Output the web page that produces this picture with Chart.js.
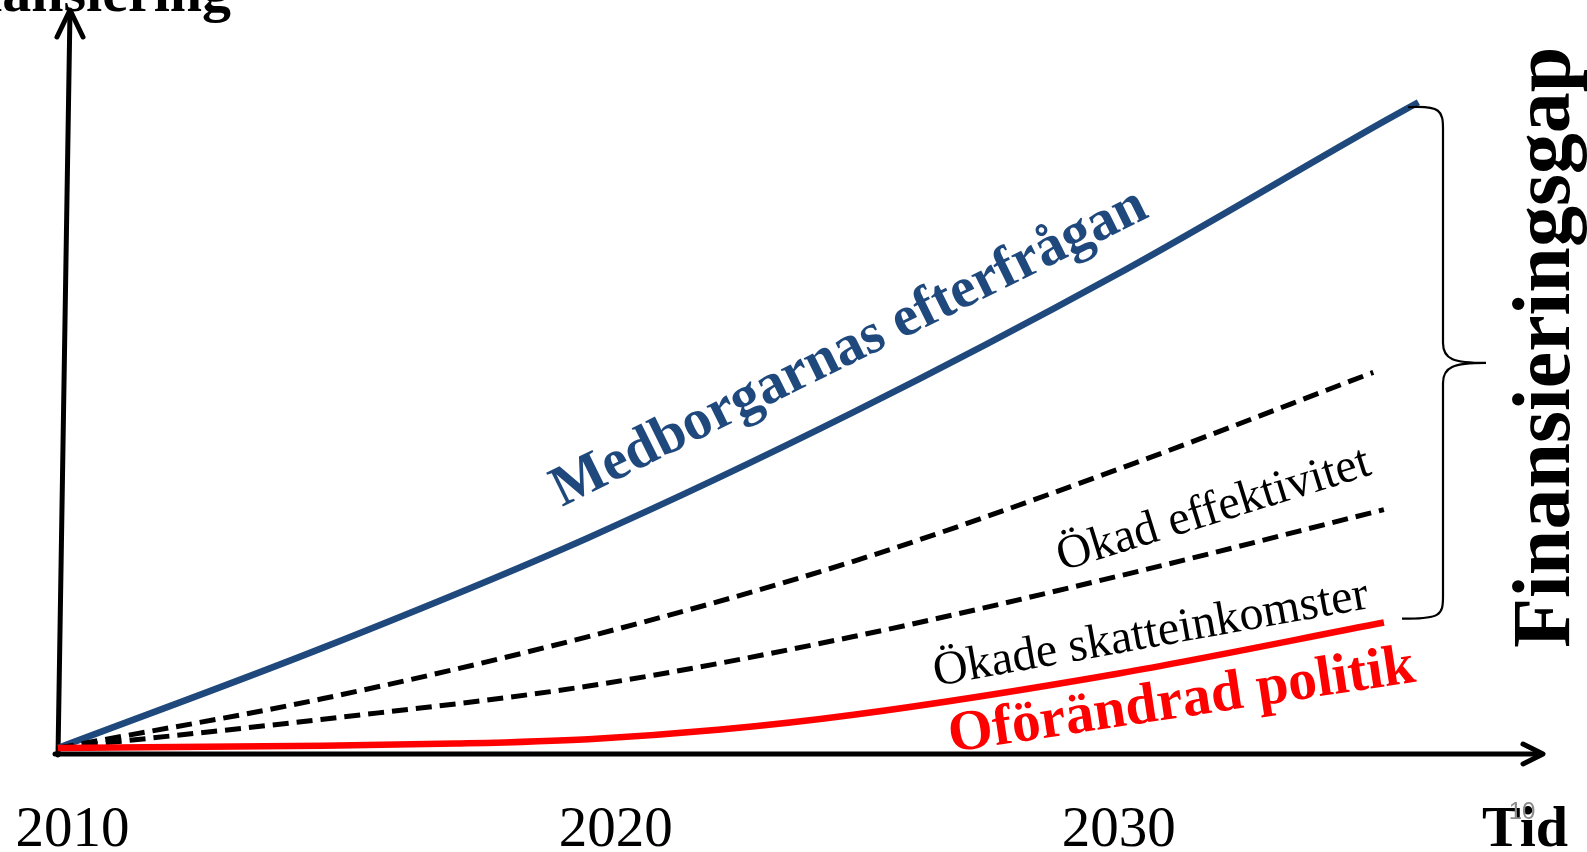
<!DOCTYPE html>
<html>
<head>
<meta charset="utf-8">
<style>
html,body{margin:0;padding:0;background:#fff;overflow:hidden}
#wrap{position:relative;width:1587px;height:852px}
</style>
<script src="https://cdn.jsdelivr.net/npm/chart.js@4"></script>
</head>
<body>
<div id="wrap"><canvas id="c" width="1587" height="852"></canvas></div>
<script>
// ---- data (conceptual index values) ----
const blueYears  = [2010, 2015, 2020, 2025, 2030, 2035, 2035.65];
const blueValues = [0, 13.6, 28.5, 45.5, 64.3, 84.9, 87.5];

const effYears   = [2010, 2015, 2020, 2025, 2030, 2034.8];
const effValues  = [0, 6.7, 15.1, 25.3, 37.8, 50.9];

const taxYears   = [2010, 2015, 2020, 2025, 2030, 2035];
const taxValues  = [0, 3.9, 8.4, 15.1, 23.3, 32.3];

const polYears   = [2010, 2015, 2017.5, 2020, 2022.5, 2025, 2030, 2035];
const polValues  = [0, 0.3, 0.6, 1.2, 2.5, 4.5, 10.1, 17.0];

const tickYears  = [2010, 2020, 2030];
const tickLabels = ['2010', '2020', '2030'];

const seriesNames = ['Medborgarnas efterfrågan', 'Ökad effektivitet', 'Ökade skatteinkomster', 'Oförändrad politik'];
const xTitle = 'Tid';
const yTitle = 'Finansiering';
const gapLabel = 'Finansieringsgap';
const slideNo = '10';

// ---- styles ----
const BLUE = '#1F497D';
const RED = '#FF0000';
const SERIF = '"Liberation Serif", "Times New Roman", serif';

function pts(xs, ys){ return xs.map((x,i)=>({x:x, y:ys[i]})); }

const labelOpts = {
  tickNudge: [14.5, 27.5, 0],
  lineLabels: [
    {x:562, y:507, angle:-26.3, font:'bold 57.5px '+SERIF, color:BLUE},
    {x:1062, y:571, angle:-17.3, font:'48px '+SERIF, color:'#000'},
    {x:936, y:686, angle:-10.2, font:'48px '+SERIF, color:'#000'},
    {x:951, y:752, angle:-8.6, font:'bold 57.5px '+SERIF, color:RED}
  ]
};

const decor = {
  id: 'decor',
  beforeDatasetsDraw(chart){
    const ctx = chart.ctx;
    const xs = chart.scales.x, ys = chart.scales.y;
    const x0 = xs.getPixelForValue(2010);
    const xEnd = xs.right;
    const yAxis = ys.bottom + 6;
    ctx.save();
    ctx.strokeStyle = '#000';
    ctx.lineWidth = 5;
    ctx.lineCap = 'round';
    ctx.lineJoin = 'round';
    // y axis (slightly tilted as in the original)
    ctx.beginPath();
    ctx.moveTo(x0, yAxis + 1);
    ctx.lineTo(x0 + 12, ys.top + 1);
    ctx.stroke();
    ctx.beginPath();
    ctx.moveTo(x0 - 1, ys.top + 27);
    ctx.lineTo(x0 + 12, ys.top);
    ctx.lineTo(x0 + 25, ys.top + 27);
    ctx.stroke();
    // x axis
    ctx.beginPath();
    ctx.moveTo(x0 - 3, yAxis);
    ctx.lineTo(xEnd - 2, yAxis);
    ctx.stroke();
    ctx.beginPath();
    ctx.moveTo(xEnd - 20, yAxis - 10);
    ctx.lineTo(xEnd, yAxis);
    ctx.lineTo(xEnd - 20, yAxis + 10);
    ctx.stroke();
    ctx.restore();
  },
  afterDatasetsDraw(chart){
    const ctx = chart.ctx;
    const xs = chart.scales.x, ys = chart.scales.y;
    ctx.save();
    // tick labels
    ctx.fillStyle = '#000';
    ctx.textAlign = 'center';
    ctx.textBaseline = 'alphabetic';
    ctx.font = '57px ' + SERIF;
    tickYears.forEach((yr,i)=>{
      ctx.fillText(tickLabels[i], xs.getPixelForValue(yr) + labelOpts.tickNudge[i], 846);
    });
    // x title
    ctx.font = 'bold 58px ' + SERIF;
    ctx.fillText(xTitle, 1525, 846);
    // slide number
    ctx.fillStyle = '#8A8A8A';
    ctx.font = '24px "Liberation Sans", Arial, sans-serif';
    ctx.fillText(slideNo, 1522, 819);
    // y title (cut off at the top)
    ctx.fillStyle = '#000';
    ctx.textAlign = 'right';
    ctx.font = 'bold 58px ' + SERIF;
    ctx.fillText(yTitle, 231, 11);
    // series labels along the lines
    labelOpts.lineLabels.forEach((l,i)=>{
      ctx.save();
      ctx.translate(l.x, l.y);
      ctx.rotate(l.angle * Math.PI/180);
      ctx.font = l.font;
      ctx.fillStyle = l.color;
      ctx.textAlign = 'left';
      ctx.textBaseline = 'alphabetic';
      ctx.fillText(seriesNames[i], 0, 0);
      ctx.restore();
    });
    // brace spanning from the demand line to the unchanged-policy line
    const top = ys.getPixelForValue(blueValues[blueValues.length-1]) + 5;
    const bot = ys.getPixelForValue(polValues[polValues.length-1]) - 4;
    const mid = (top + bot) / 2;
    const xl = 1408, xv = 1443, xt = 1486;
    ctx.strokeStyle = '#000';
    ctx.lineWidth = 2.2;
    ctx.lineCap = 'butt';
    ctx.beginPath();
    ctx.moveTo(xl, top);
    ctx.bezierCurveTo(xv - 2, top - 2, xv, top + 4, xv, top + 22);
    ctx.lineTo(xv, mid - 20);
    ctx.bezierCurveTo(xv, mid - 4, xv + 10, mid, xt, mid);
    ctx.moveTo(xt, mid);
    ctx.bezierCurveTo(xv + 10, mid, xv, mid + 4, xv, mid + 20);
    ctx.lineTo(xv, bot - 22);
    ctx.bezierCurveTo(xv, bot - 4, xv - 2, bot + 1, xl - 6, bot);
    ctx.stroke();
    // gap label, rotated
    ctx.save();
    ctx.translate(1569, 648);
    ctx.rotate(-Math.PI/2);
    ctx.font = 'bold 82px ' + SERIF;
    ctx.fillStyle = '#000';
    ctx.textAlign = 'left';
    ctx.textBaseline = 'alphabetic';
    ctx.fillText(gapLabel, 0, 0);
    ctx.restore();
    ctx.restore();
  }
};

new Chart(document.getElementById('c'), {
  type: 'line',
  data: {
    datasets: [
      {label: seriesNames[3], data: pts(polYears, polValues), borderColor: RED, borderWidth: 6.5, order: 1},
      {label: seriesNames[2], data: pts(taxYears, taxValues), borderColor: '#000', borderWidth: 5, borderDash: [16, 8], order: 2},
      {label: seriesNames[1], data: pts(effYears, effValues), borderColor: '#000', borderWidth: 5, borderDash: [16, 8], order: 3},
      {label: seriesNames[0], data: pts(blueYears, blueValues), borderColor: BLUE, borderWidth: 6.5, order: 4}
    ]
  },
  options: {
    responsive: false,
    animation: false,
    layout: {padding: {left: 58, right: 44, top: 10, bottom: 104}},
    elements: {
      point: {radius: 0, hoverRadius: 0},
      line: {cubicInterpolationMode: 'monotone', fill: false, borderCapStyle: 'butt'}
    },
    datasets: {line: {clip: false}},
    scales: {
      x: {type: 'linear', min: 2010, max: 2038, display: false},
      y: {type: 'linear', min: 0, max: 100, display: false}
    },
    plugins: {legend: {display: false}, tooltip: {enabled: false}, title: {display: false}}
  },
  plugins: [decor]
});
</script>
</body>
</html>
